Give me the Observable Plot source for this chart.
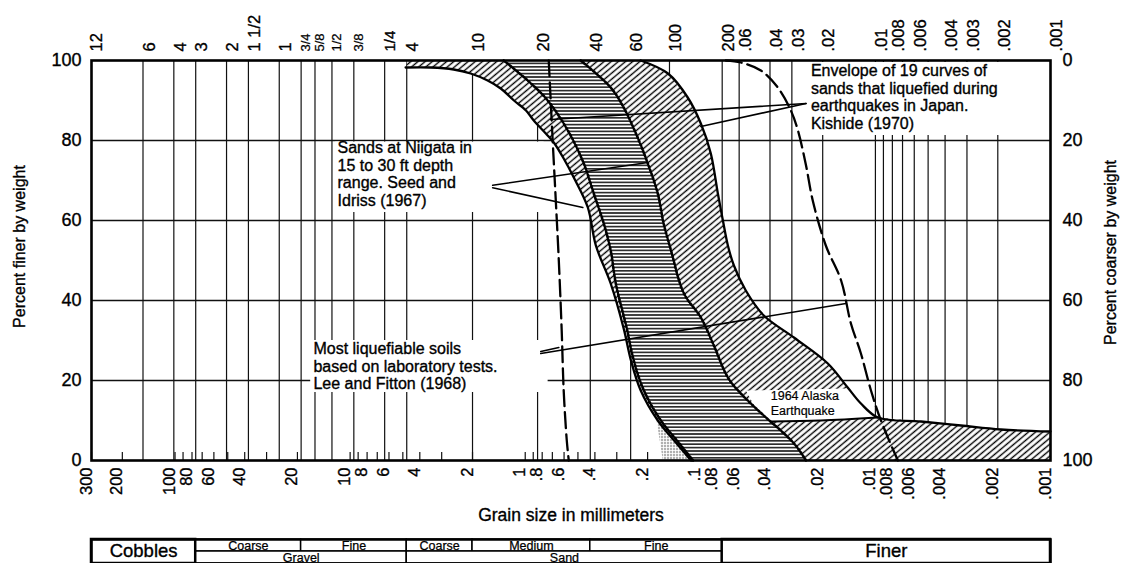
<!DOCTYPE html>
<html><head><meta charset="utf-8">
<script src="https://cdn.jsdelivr.net/npm/d3@7"></script>
<script src="https://cdn.jsdelivr.net/npm/@observablehq/plot@0.6"></script>
<style>
html,body{margin:0;padding:0;background:#fff;overflow:hidden;}
#chart svg{display:block;}
</style></head><body><div id="chart"></div>
<script>
// ---------- axis / tick data ----------
const bottomTickMm = [300,200,100,80,60,40,20,10,8,6,4,2,1,0.8,0.6,0.4,0.2,0.1,0.08,0.06,0.04,0.02,0.01,0.008,0.006,0.004,0.002,0.001];
const bottomTickLabels = ["300","200","100","80","60","40","20","10","8","6","4","2","1",".8",".6",".4",".2",".1",".08",".06",".04",".02",".01",".008",".006",".004",".002",".001"];
const minorTickMm = [300,200,100,90,80,70,60,50,40,30,20,10,9,8,7,6,5,4,3,2,1,0.9,0.8,0.7,0.6,0.5,0.4,0.3,0.2,0.1,0.09,0.08,0.07,0.06,0.05,0.04,0.03,0.02,0.01,0.009,0.008,0.007,0.006,0.005,0.004,0.003,0.002];
const topTickMm = [304.8,152.4,101.6,76.2,50.8,38.1,25.4,4.75,2.0,0.85,0.425,0.25,0.15,0.075,0.06,0.04,0.03,0.02,0.01,0.008,0.006,0.004,0.003,0.002,0.001];
const topTickLabels = ["12","6","4","3","2","1 1/2","1","4","10","20","40","60","100","200",".06",".04",".03",".02",".01",".008",".006",".004",".003",".002",".001"];
const topFracMm = [19.05,15.875,12.7,9.525];
const topFracLabels = ["3/4","5/8","1/2","3/8"];
const topQuarterMm = [6.35];
const topQuarterLabels = ["1/4"];
const gridMm = [152.4,101.6,76.2,50.8,38.1,25.4,19.05,15.875,12.7,9.525,6.35,4.75,2.0,0.85,0.425,0.25,0.15,0.075,0.06,0.04,0.03,0.02,0.01,0.009,0.008,0.007,0.006,0.005,0.004,0.003,0.002];
const gridPct = [20,40,60,80];
const finerPct = [0,20,40,60,80,100];
const finerLabels = ["0","20","40","60","80","100"];
const coarserLabels = ["100","80","60","40","20","0"];

// ---------- Kishide (1970) envelope, incl. 1964 Alaska band ----------
const kishideLeftMm  = [4.82,3.47,2.56,2.05,1.64,1.38,1.16,0.99,0.894,0.763,0.687,0.603,0.528,0.439,0.395,0.325,0.274,0.249,0.219,0.175,0.138,0.113];
const kishideLeftPct = [98.25,98.25,97.75,96.75,95,93,90,87.5,85,81.75,79.5,75.5,70.75,63.25,53.75,44.25,33,25,17.5,10,4.5,0];
const kishideRightMm  = [0.219,0.153,0.118,0.0993,0.0871,0.0794,0.0743,0.0696,0.0643,0.0550,0.0434,0.0292,0.0187,0.0144,0.0121,0.00968,0.0055,0.00325,0.00192,0.001];
const kishideRightPct = [100,96.75,90.75,84.25,76.75,66.75,60,53.75,48.75,42.5,36.25,30.75,24.25,18.25,14.25,10.75,9.75,8.75,7.75,7.25];

// ---------- Niigata sands, Seed and Idriss (1967) ----------
const niigataLeftMm  = [1.327,0.968,0.744,0.571,0.463,0.406,0.356,0.325,0.304,0.263,0.240,0.210,0.168,0.133,0.110];
const niigataLeftPct = [100,95,90,82.5,74.25,66.75,59.25,52.5,44.25,33,25,17.5,10,4.5,0];
const niigataRightMm  = [0.482,0.325,0.274,0.228,0.1995,0.175,0.162,0.147,0.124,0.0993,0.0837,0.0696,0.0587,0.0422,0.0347,0.0285,0.0249];
const niigataRightPct = [100,93.25,88.25,80.75,74.25,66.75,59.25,52.5,41.75,35.75,28.75,20.75,16.75,10.75,7.5,3.75,0];

// ---------- Lee and Fitton (1968) limits ----------
const leeLeftMm  = [0.734,0.697,0.669,0.643,0.619,0.603,0.579,0.564];
const leeLeftPct = [100,80,65,50,32.5,17.5,5,0];
const leeRightMm  = [0.0715,0.0587,0.0451,0.0361,0.0304,0.0277,0.0249,0.0228,0.0192,0.0157,0.0138,0.0121,0.0106,0.0093,0.00744];
const leeRightPct = [100,99.5,97.5,93.25,87.5,82.5,73.75,65,53.75,45,34.25,26.75,17.5,10,0];

// ---------- small regions ----------
const stippleMm  = [0.1796,0.1637,0.113,0.138,0.175];
const stipplePct = [11.25,0,0,4.5,10];
const alaskaPocketMm  = [0.055,0.0144,0.0121,0.00968,0.0205,0.0396,0.0482];
const alaskaPocketPct = [17.5,18,14.25,10.75,10,9.75,13];
const alaskaLineMm  = [0.0396,0.0205,0.00968];
const alaskaLinePct = [9.75,10,10.75];

// ---------- text boxes & leaders ----------
const boxX1Mm = [0.026,12.1,16.8];
const boxX2Mm = [0.00104,0.78,0.74];
const boxY1Pct = [81.25,62,17];
const boxY2Pct = [99.5,79.6,30];
const leaderFromMm  = [0.0249,0.0249,1.534,1.534,0.815,0.815];
const leaderFromPct = [89.25,89.25,68.8,68.2,27.25,26.75];
const leaderToMm    = [0.0993,0.715,0.1995,0.469,0.643,0.01474];
const leaderToPct   = [83.5,85.25,74.5,63.25,28.25,39.25];
const leaderBend    = [0,0,-8,8,0,0];

const kishideNote = ["Envelope of 19 curves of","sands that liquefied during","earthquakes in Japan.","Kishide (1970)"];
const niigataNote = ["Sands at Niigata in","15 to 30 ft depth","range. Seed and","Idriss (1967)"];
const leeNote = ["Most liquefiable soils","based on laboratory tests.","Lee and Fitton (1968)"];
const alaskaNote = ["1964 Alaska","Earthquake"];
const noteMm  = [0.02336,11.8,16.2,0.0396];
const notePct = [99.25,80.0,29.75,17.6];

// ---------- classification table ----------
const bigCellX1 = [300,0.075], bigCellX2 = [76.2,0.001], bigCellText = ["Cobbles","Finer"];
const subCellX1 = [76.2,19.05,4.75,2.0,0.425], subCellX2 = [19.05,4.75,2.0,0.425,0.075];
const subCellText = ["Coarse","Fine","Coarse","Medium","Fine"];
const groupCellX1 = [76.2,4.75], groupCellX2 = [4.75,0.075], groupCellText = ["Gravel","Sand"];

// ---------- build tables ----------
const zip = (a, b) => a.map((v, i) => ({mm: v, pct: b[i]}));
const kLeft = zip(kishideLeftMm, kishideLeftPct);
const kRight = zip(kishideRightMm, kishideRightPct);
const kishidePoly = [{mm: 4.75, pct: 100}, {mm: 4.75, pct: kishideLeftPct[0]}, ...kLeft, {mm: 0.001, pct: 0}, ...kRight.slice().reverse()];
const nLeft = zip(niigataLeftMm, niigataLeftPct);
const nRight = zip(niigataRightMm, niigataRightPct);
const niigataPoly = [...nLeft, ...nRight.slice().reverse()];
const leeLeft = zip(leeLeftMm, leeLeftPct);
const leeRight = zip(leeRightMm, leeRightPct);
const stipple = zip(stippleMm, stipplePct);
const pocket = zip(alaskaPocketMm, alaskaPocketPct);
const alaskaLine = zip(alaskaLineMm, alaskaLinePct);
const boxes = boxX1Mm.map((v, i) => ({x1: v, x2: boxX2Mm[i], y1: boxY1Pct[i], y2: boxY2Pct[i]}));
const leaders = leaderFromMm.map((v, i) => ({x1: v, y1: leaderFromPct[i], x2: leaderToMm[i], y2: leaderToPct[i], bend: leaderBend[i]}));
const notes = [kishideNote, niigataNote, leeNote].map((t, i) => ({mm: noteMm[i], pct: notePct[i], text: t.join("\n")}));
const alaskaLabel = [{mm: noteMm[3], pct: notePct[3], text: alaskaNote.join("\n")}];

const font = "'Liberation Sans', Arial, Helvetica, sans-serif";
const ink = {fill: "#000", stroke: "#000", strokeWidth: 0.35};

const main = Plot.plot({
  width: 1126, height: 530,
  marginTop: 60, marginBottom: 70, marginLeft: 91, marginRight: 76,
  x: {type: "log", domain: [300, 0.001], axis: null},
  y: {domain: [0, 100], axis: null},
  style: {fontFamily: font, fontSize: "16px", background: "#fff", color: "#000", overflow: "visible"},
  marks: [
    Plot.ruleY(gridPct, {stroke: "#111", strokeWidth: 1.3}),
    Plot.ruleX(gridMm, {stroke: "#111", strokeWidth: 1.2}),
    Plot.ruleX(minorTickMm, {y1: 0, y2: 2, stroke: "#111", strokeWidth: 1.2}),
    Plot.rect(boxes, {x1: "x1", x2: "x2", y1: "y1", y2: "y2", fill: "#fff"}),
    Plot.line(kishidePoly, {x: "mm", y: "pct", fill: "url(#kHatch)", stroke: "none"}),
    Plot.line(niigataPoly, {x: "mm", y: "pct", fill: "url(#nHatch)", stroke: "none"}),
    Plot.line(stipple, {x: "mm", y: "pct", fill: "url(#dots)", stroke: "none"}),
    Plot.line(pocket, {x: "mm", y: "pct", fill: "#fff", stroke: "none"}),
    Plot.line(kLeft, {x: "mm", y: "pct", curve: "catmull-rom", stroke: "#000", strokeWidth: 2.3}),
    Plot.line(kRight, {x: "mm", y: "pct", curve: "catmull-rom", stroke: "#000", strokeWidth: 2.3}),
    Plot.line(nLeft, {x: "mm", y: "pct", curve: "catmull-rom", stroke: "#000", strokeWidth: 2.6, strokeDasharray: "2,2"}),
    Plot.line(nRight, {x: "mm", y: "pct", curve: "catmull-rom", stroke: "#000", strokeWidth: 2.6, strokeDasharray: "2,2"}),
    Plot.line(alaskaLine, {x: "mm", y: "pct", curve: "catmull-rom", stroke: "#000", strokeWidth: 1.8}),
    Plot.line(leeLeft, {x: "mm", y: "pct", curve: "catmull-rom", stroke: "#000", strokeWidth: 2.3, strokeDasharray: "16,6"}),
    Plot.line(leeRight, {x: "mm", y: "pct", curve: "catmull-rom", stroke: "#000", strokeWidth: 2.3, strokeDasharray: "16,6"}),
    Plot.arrow(leaders, {x1: "x1", y1: "y1", x2: "x2", y2: "y2", bend: "bend", headLength: 9, strokeWidth: 1.6, stroke: "#000"}),
    Plot.frame({stroke: "#000", strokeWidth: 2.6}),
    // notes
    Plot.text(notes, {x: "mm", y: "pct", text: "text", textAnchor: "start", lineAnchor: "top", lineHeight: 1.1, fontSize: 16, ...ink}),
    Plot.text(alaskaLabel, {x: "mm", y: "pct", text: "text", textAnchor: "start", lineAnchor: "top", lineHeight: 1.15, fontSize: 12.5, fill: "#000", stroke: "#000", strokeWidth: 0.2}),
    // axes labels
    Plot.text(bottomTickMm, {x: d => d, text: (d, i) => bottomTickLabels[i], frameAnchor: "bottom", rotate: -90, textAnchor: "end", dy: 7, fontSize: 16.5, ...ink}),
    Plot.text(topTickMm, {x: d => d, text: (d, i) => topTickLabels[i], frameAnchor: "top", rotate: -90, textAnchor: "start", dy: -9, fontSize: 16.5, ...ink}),
    Plot.text(topFracMm, {x: d => d, text: (d, i) => topFracLabels[i], frameAnchor: "top", rotate: -90, textAnchor: "start", dy: -9, fontSize: 13, fill: "#000", stroke: "#000", strokeWidth: 0.25}),
    Plot.text(topQuarterMm, {x: d => d, text: (d, i) => topQuarterLabels[i], frameAnchor: "top", rotate: -90, textAnchor: "start", dy: -9, fontSize: 15, ...ink}),
    Plot.text(finerPct, {y: d => d, text: (d, i) => finerLabels[i], frameAnchor: "left", textAnchor: "end", dx: -10, fontSize: 18, ...ink}),
    Plot.text(finerPct, {y: d => d, text: (d, i) => coarserLabels[i], frameAnchor: "right", textAnchor: "start", dx: 12, fontSize: 18, ...ink}),
    Plot.text(["Percent finer by weight"], {frameAnchor: "left", textAnchor: "middle", rotate: -90, dx: -72, dy: -14, fontSize: 16, ...ink}),
    Plot.text(["Percent coarser by weight"], {frameAnchor: "right", textAnchor: "middle", rotate: -90, dx: 60, dy: -8, fontSize: 16, ...ink}),
    Plot.text(["Grain size in millimeters"], {frameAnchor: "bottom", textAnchor: "middle", dy: 60, fontSize: 17.5, ...ink})
  ]
});

main.insertAdjacentHTML("afterbegin", `<defs>
  <pattern id="kHatch" patternUnits="userSpaceOnUse" width="4.6" height="4.6" patternTransform="rotate(-40)">
    <rect width="4.6" height="4.6" fill="#fff"/>
    <line x1="0" y1="2.3" x2="4.6" y2="2.3" stroke="#000" stroke-width="1.4"/>
  </pattern>
  <pattern id="nHatch" patternUnits="userSpaceOnUse" width="6" height="3.4">
    <rect width="6" height="3.4" fill="#fff"/>
    <line x1="0" y1="1.7" x2="6" y2="1.7" stroke="#000" stroke-width="1.4"/>
  </pattern>
  <pattern id="dots" patternUnits="userSpaceOnUse" width="3" height="3">
    <rect width="3" height="3" fill="#fff"/>
    <circle cx="1.5" cy="1.5" r="0.7" fill="#000"/>
  </pattern>
</defs>`);

const tableBig = bigCellX1.map((v, i) => ({x1: v, x2: bigCellX2[i], y1: 0, y2: 2, text: bigCellText[i]}));
const tableSub = subCellX1.map((v, i) => ({x1: v, x2: subCellX2[i], y1: 1, y2: 2, text: subCellText[i]}));
const tableGroup = groupCellX1.map((v, i) => ({x1: v, x2: groupCellX2[i], y1: 0, y2: 1, text: groupCellText[i]}));
const mid = d => Math.sqrt(d.x1 * d.x2);

const table = Plot.plot({
  width: 1126, height: 33,
  marginTop: 9, marginBottom: 0, marginLeft: 91, marginRight: 76,
  x: {type: "log", domain: [300, 0.001], axis: null},
  y: {domain: [0, 2], axis: null},
  style: {fontFamily: font, background: "#fff", color: "#000", overflow: "visible"},
  marks: [
    Plot.rect(tableSub, {x1: "x1", x2: "x2", y1: "y1", y2: "y2", fill: "#fff", stroke: "#000", strokeWidth: 1.5}),
    Plot.rect(tableGroup, {x1: "x1", x2: "x2", y1: "y1", y2: "y2", fill: "#fff", stroke: "#000", strokeWidth: 1.5}),
    Plot.rect(tableBig, {x1: "x1", x2: "x2", y1: "y1", y2: "y2", fill: "#fff", stroke: "#000", strokeWidth: 2.5}),
    Plot.frame({stroke: "#000", strokeWidth: 2.5}),
    Plot.text(tableBig, {x: mid, y: 1, text: "text", fontSize: 18.5, fill: "#000", stroke: "#000", strokeWidth: 0.35}),
    Plot.text(tableSub, {x: mid, y: 1.5, text: "text", fontSize: 12.5, fill: "#000", stroke: "#000", strokeWidth: 0.25}),
    Plot.text(tableGroup, {x: mid, y: 0.5, text: "text", fontSize: 12.5, fill: "#000", stroke: "#000", strokeWidth: 0.25})
  ]
});

const chart = document.getElementById("chart");
chart.appendChild(main);
chart.appendChild(table);
</script>
</body></html>
